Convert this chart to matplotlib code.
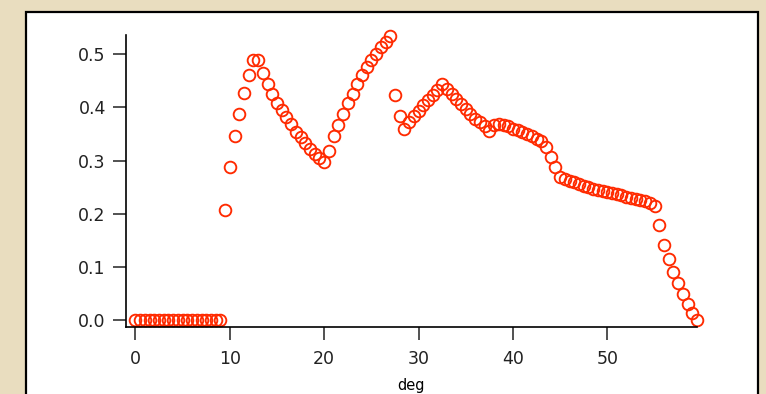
import numpy as np
import matplotlib.pyplot as plt
from matplotlib.patches import Rectangle

# data (step of 0.5 deg, 0 .. 59.5)
deg = np.arange(120) * 0.5
flat_part = [0.0] * 19
first_hump = [0.207, 0.288, 0.346, 0.387, 0.427, 0.461, 0.489, 0.489, 0.465, 0.444,
              0.426, 0.408, 0.395, 0.381, 0.368, 0.354, 0.345, 0.333, 0.322, 0.313,
              0.305, 0.298, 0.318, 0.346, 0.367, 0.388, 0.408, 0.426, 0.444, 0.461,
              0.475, 0.489, 0.500, 0.513, 0.523, 0.535]
second_hump = [0.423, 0.384, 0.360, 0.373, 0.383, 0.393, 0.404, 0.414, 0.423, 0.433,
               0.443, 0.435, 0.425, 0.415, 0.406, 0.397, 0.388, 0.379, 0.372, 0.364,
               0.356]
shoulder = [0.366, 0.368, 0.367, 0.364, 0.360, 0.357, 0.354, 0.350, 0.346, 0.341,
            0.337, 0.326, 0.307, 0.287, 0.269]
plateau = [0.265, 0.262, 0.259, 0.256, 0.253, 0.250, 0.247, 0.245, 0.243, 0.241,
           0.239, 0.237, 0.235, 0.232, 0.229, 0.227, 0.225, 0.223, 0.221]
tail = [0.215, 0.179, 0.141, 0.115, 0.090, 0.069, 0.049, 0.031, 0.014, 0.0]
values = flat_part + first_hump + second_hump + shoulder + plateau + tail

xticks = [0, 10, 20, 30, 40, 50]
yticks = [0.0, 0.1, 0.2, 0.3, 0.4, 0.5]

W, H = 766, 394
fig = plt.figure(figsize=(W / 100, H / 100), dpi=100)
fig.patch.set_facecolor('#e9ddbf')

# white panel with black frame, kept under the axes
panel = Rectangle((26 / W, -0.05), (758 - 26) / W, 1.05 - 12 / H,
                  transform=fig.transFigure, facecolor='white',
                  edgecolor='black', linewidth=1.6, zorder=-5)
fig.add_artist(panel)

ax = fig.add_axes([126 / W, 1 - 327 / H, (697 - 126) / W, (327 - 35) / H])
ax.set_zorder(2)
ax.set_facecolor('none')
ax.plot(deg, values, linestyle='none', marker='o', markersize=8.4,
        markerfacecolor='none', markeredgecolor='#ff2a00', markeredgewidth=1.35,
        clip_on=False)

ax.set_xlim(-1, 59.5)
ax.set_ylim(-0.013, 0.536)
ax.set_xticks(xticks)
ax.set_yticks(yticks)
ax.set_yticklabels([f'{v:.1f}' for v in yticks])

for side in ['top', 'right']:
    ax.spines[side].set_visible(False)
for side in ['left', 'bottom']:
    ax.spines[side].set_linewidth(1.2)
ax.tick_params(direction='out', length=9.5, width=1.1, labelsize=12.5,
               colors='#222222')
ax.tick_params(axis='x', pad=7)
ax.tick_params(axis='y', pad=5)
ax.set_xlabel('deg', fontsize=10.5, labelpad=7)

fig.savefig('out.png', dpi=100)
